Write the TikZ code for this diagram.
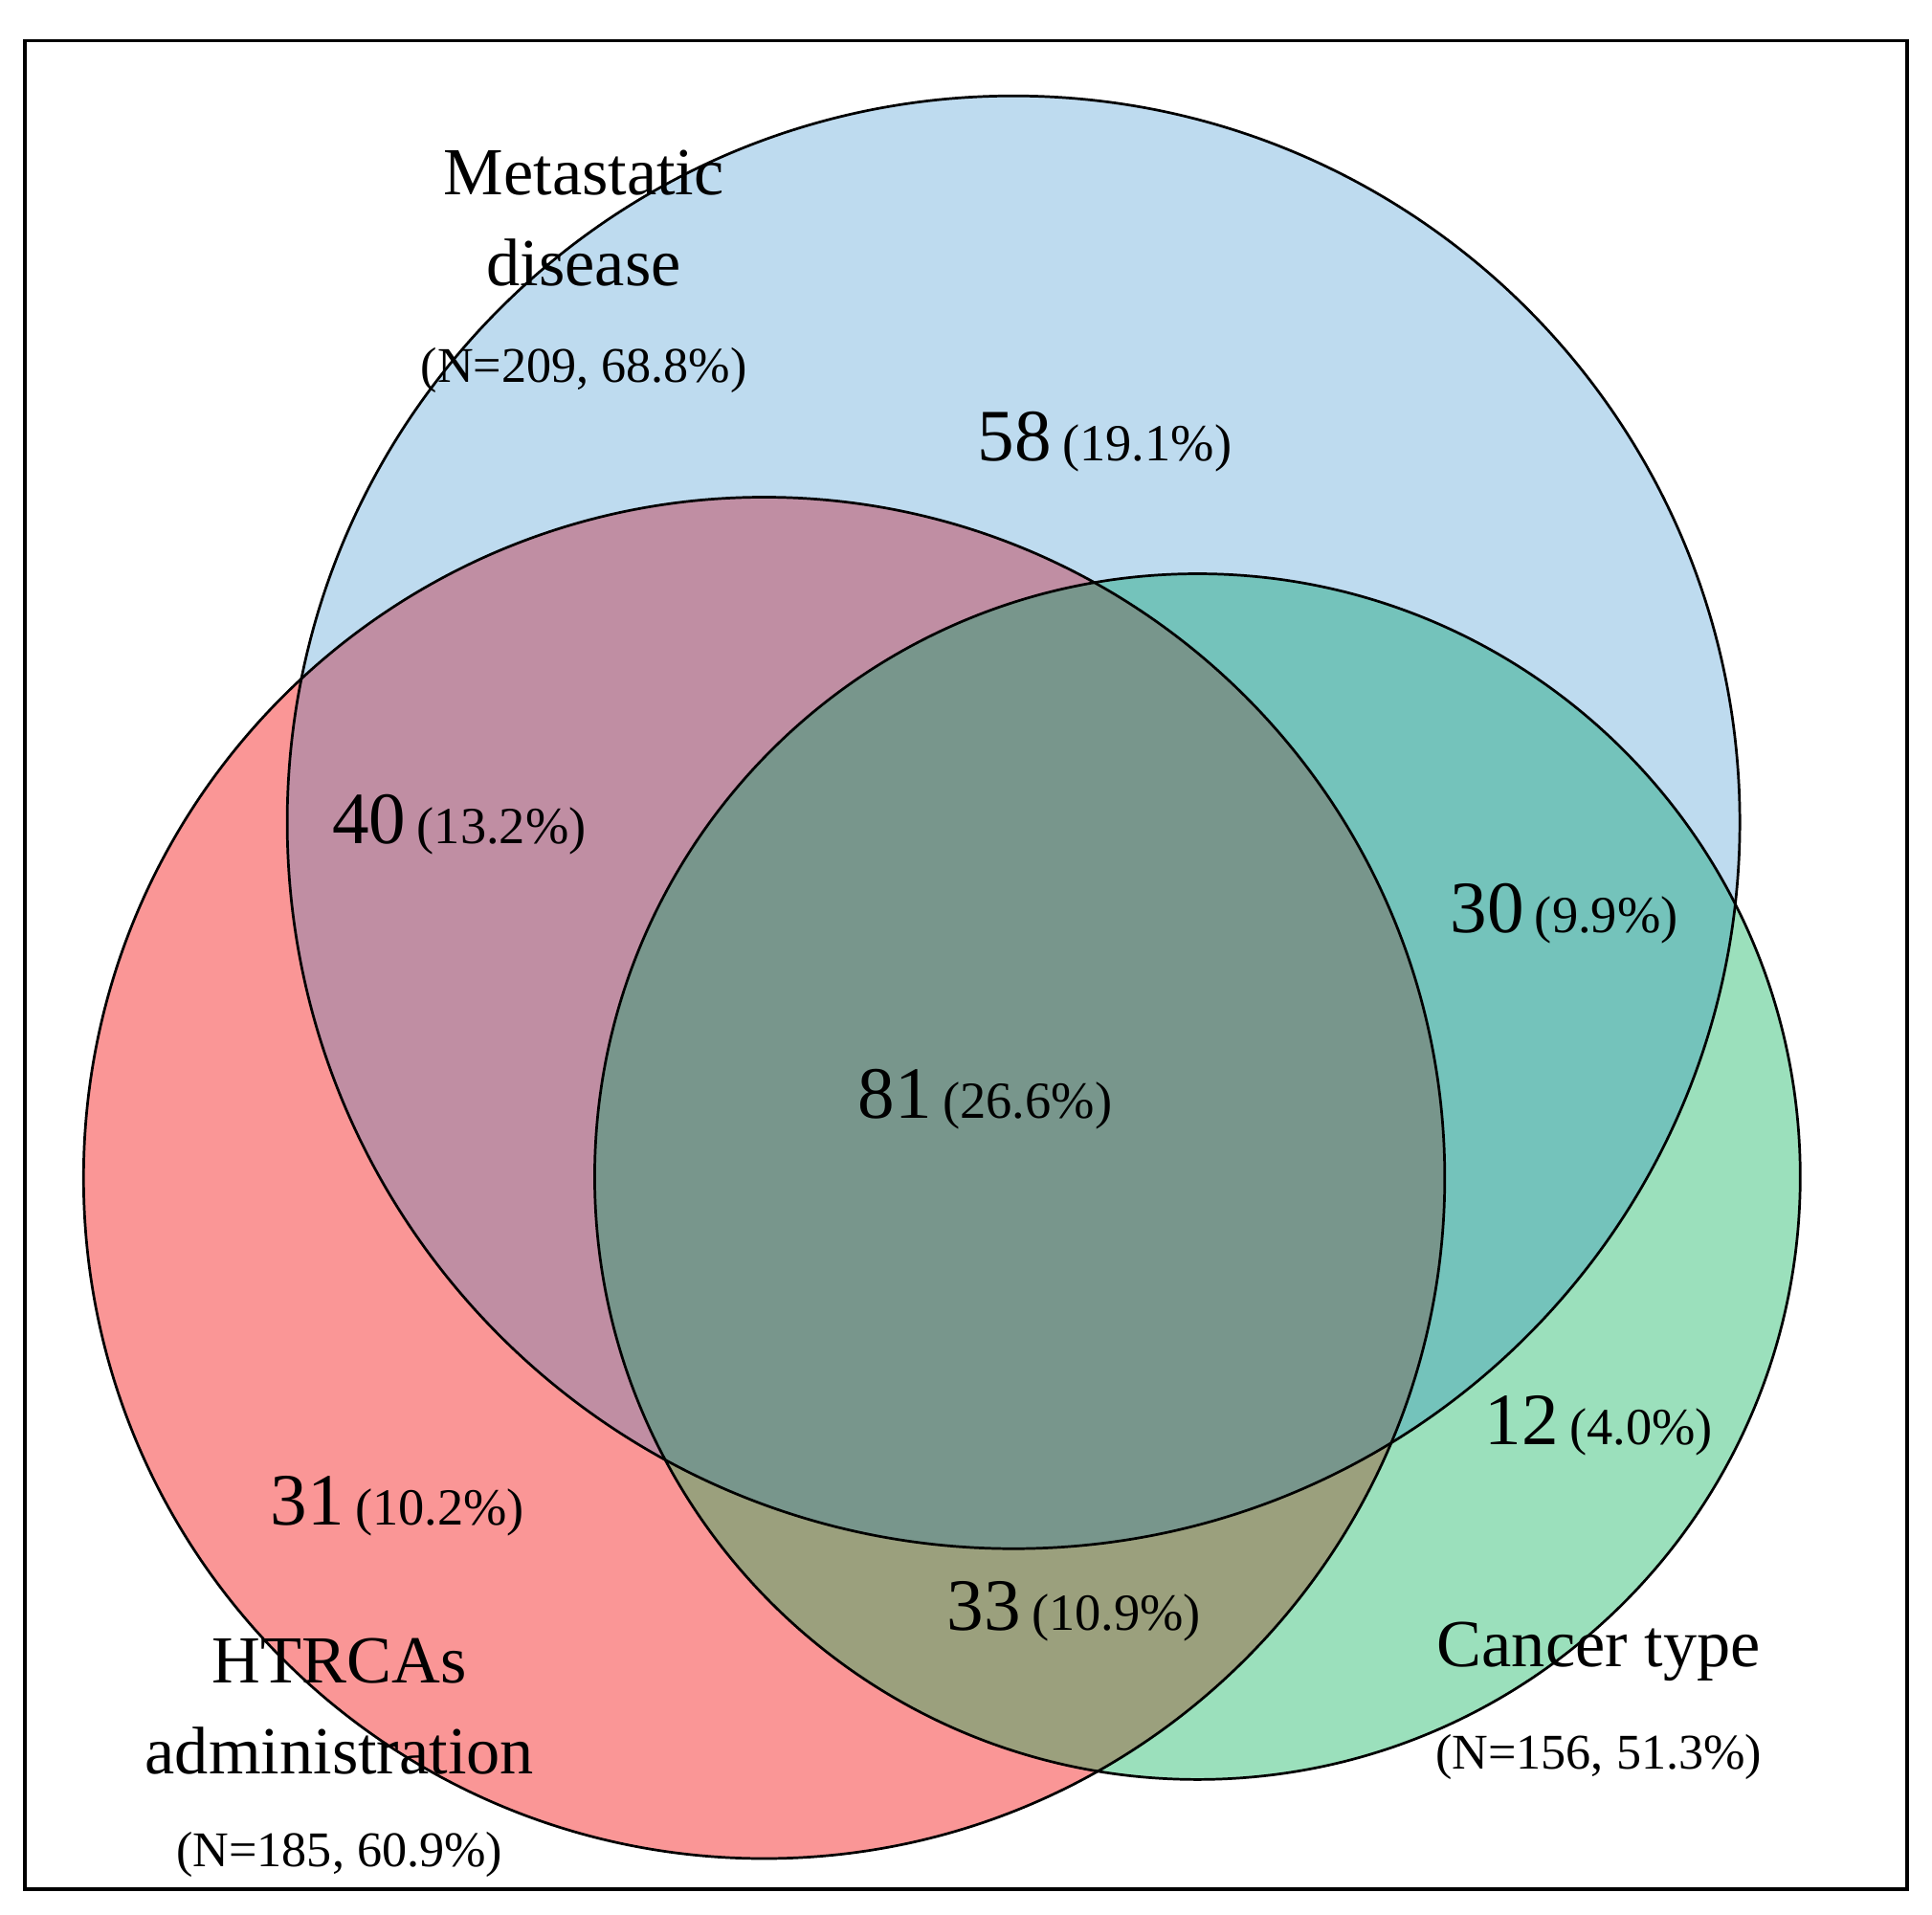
\documentclass[tikz,border=0pt]{standalone}
\usepackage{fontspec}
\setmainfont{Liberation Serif}
\definecolor{cB}{RGB}{190,219,239}
\definecolor{cR}{RGB}{250,150,150}
\definecolor{cG}{RGB}{155,224,188}
\definecolor{cRB}{RGB}{192,142,163}
\definecolor{cBG}{RGB}{116,195,187}
\definecolor{cRG}{RGB}{155,160,125}
\definecolor{cAll}{RGB}{120,150,140}
\newcommand{\bignum}[1]{{\fontsize{17}{20}\selectfont #1}}
\newcommand{\pct}[1]{{\fontsize{12}{14}\selectfont #1}}
\begin{document}
\begin{tikzpicture}[x=0.01cm,y=-0.01cm,
  lab/.style={font=\fontsize{15.5}{19}\selectfont, inner sep=0pt},
  nlab/.style={font=\fontsize{11.5}{14}\selectfont, inner sep=0pt},
  cnt/.style={inner sep=0pt}]
\useasboundingbox (0,0) rectangle (1565,1551);
\def\B{(821,666) circle [radius=5.88cm]}
\def\R{(619,954) circle [radius=5.51cm]}
\def\G{(970,953) circle [radius=4.88cm]}
\fill[cR] \R; \fill[cB] \B; \fill[cG] \G;
\begin{scope}\clip \R; \fill[cRB] \B; \fill[cRG] \G; \end{scope}
\begin{scope}\clip \B; \fill[cBG] \G; \end{scope}
\begin{scope}\clip \R; \clip \B; \fill[cAll] \G; \end{scope}
\draw[line width=0.6pt] \B; \draw[line width=0.6pt] \R; \draw[line width=0.6pt] \G;
\draw[line width=0.8pt] (20,33) rectangle (1545,1530);
\node[lab] (m1) at (473,140) {Metastatic};
\node[lab] (m2) at (473,213) {disease};
\node[nlab] (m3) at (473,300) {(N=209, 68.8\%)};
\node[cnt] (a) at (895,358) {\bignum{58} \pct{(19.1\%)}};
\node[cnt] (b) at (372,668) {\bignum{40} \pct{(13.2\%)}};
\node[cnt] (c) at (1267,740) {\bignum{30} \pct{(9.9\%)}};
\node[cnt] (d) at (798,890) {\bignum{81} \pct{(26.6\%)}};
\node[cnt] (e) at (1295,1155) {\bignum{12} \pct{(4.0\%)}};
\node[cnt] (f) at (322,1220) {\bignum{31} \pct{(10.2\%)}};
\node[cnt] (g) at (870,1305) {\bignum{33} \pct{(10.9\%)}};
\node[lab] (h1) at (275,1345) {HTRCAs};
\node[lab] (h2) at (275,1418) {administration};
\node[nlab] (h3) at (275,1502) {(N=185, 60.9\%)};
\node[lab] (c1) at (1295,1338) {Cancer type};
\node[nlab] (c2) at (1295,1423) {(N=156, 51.3\%)};
\end{tikzpicture}
\end{document}
